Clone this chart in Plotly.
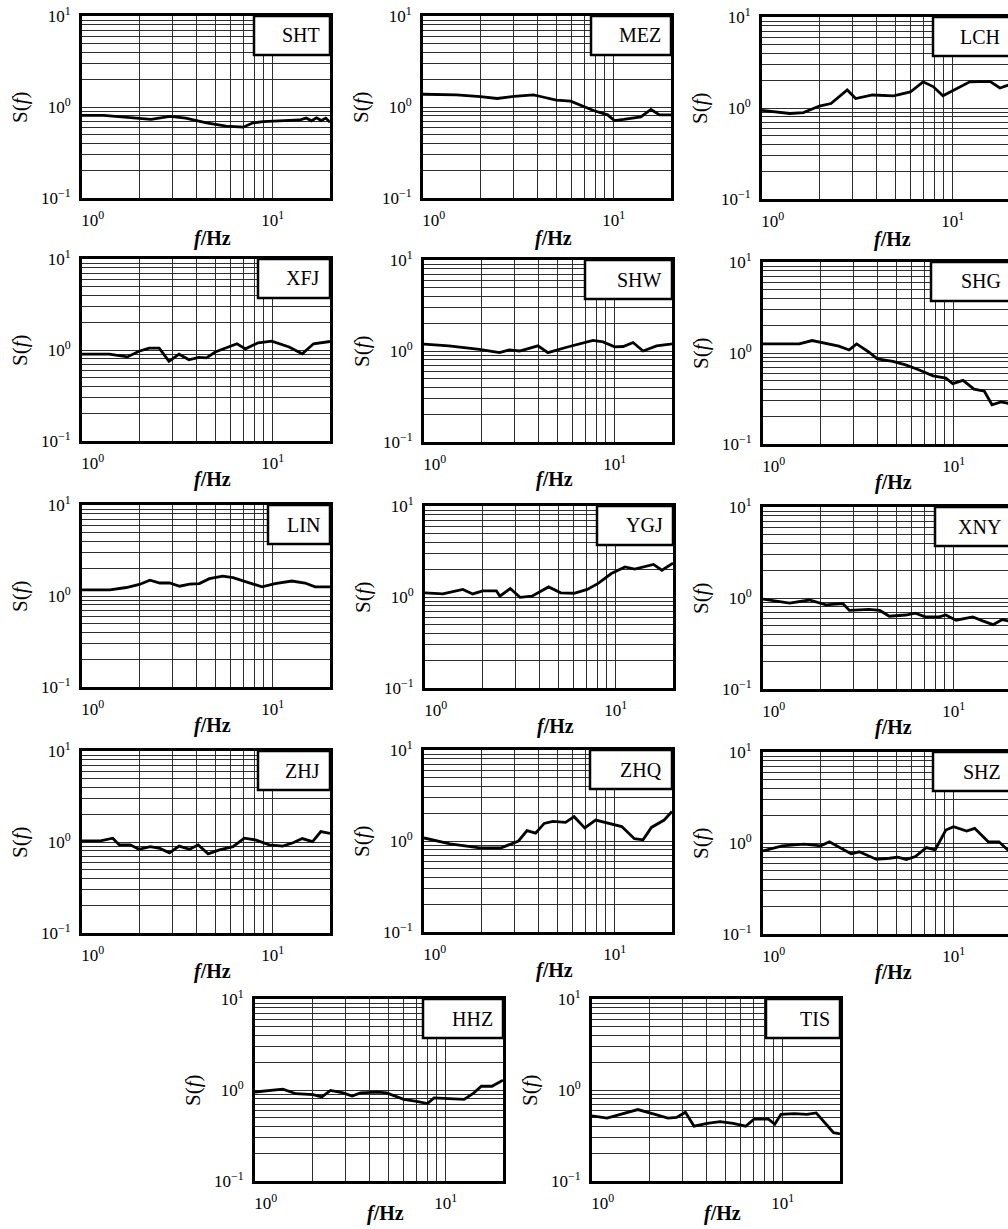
import math
import plotly.graph_objects as go

# ---------------- data ----------------
stations = ["SHT", "MEZ", "LCH", "XFJ", "SHW", "SHG", "LIN",
            "YGJ", "XNY", "ZHJ", "ZHQ", "SHZ", "HHZ", "TIS"]

f_SHT = [1.0, 1.3, 1.5, 2.0, 2.3, 2.9, 3.5, 4.5, 5.7, 7.0, 7.9, 8.9, 11.4, 13.9, 15, 16, 17, 18, 19, 20]
s_SHT = [0.81, 0.81, 0.79, 0.755, 0.73, 0.79, 0.755, 0.67, 0.615, 0.60, 0.67, 0.69, 0.71, 0.72, 0.755, 0.705, 0.76, 0.71, 0.755, 0.68]

f_MEZ = [1.0, 1.29, 1.5, 2.0, 2.45, 3.0, 3.8, 4.3, 5.0, 5.95, 6.7, 7.9, 9.3, 10.1, 11.3, 13.9, 15.7, 17.4, 20]
s_MEZ = [1.38, 1.38, 1.36, 1.30, 1.24, 1.31, 1.36, 1.28, 1.19, 1.16, 1.04, 0.91, 0.82, 0.71, 0.73, 0.78, 0.94, 0.82, 0.82]

f_LCH = [1.0, 1.4, 1.65, 2.0, 2.3, 2.8, 3.1, 3.8, 4.9, 6.0, 7.0, 7.9, 8.9, 10.5, 12.3, 15.7, 17.7, 19.6, 20]
s_LCH = [0.94, 0.87, 0.89, 1.05, 1.12, 1.58, 1.27, 1.39, 1.36, 1.50, 1.94, 1.72, 1.36, 1.64, 1.94, 1.96, 1.66, 1.78, 1.80]

f_XFJ = [1.0, 1.39, 1.73, 1.99, 2.25, 2.54, 2.86, 3.23, 3.64, 4.1, 4.5, 5.0, 6.5, 7.2, 8.4, 9.9, 12.2, 14.3, 16.4, 19.6, 20]
s_XFJ = [0.90, 0.90, 0.84, 0.97, 1.05, 1.05, 0.75, 0.90, 0.78, 0.83, 0.82, 0.95, 1.17, 1.03, 1.20, 1.25, 1.08, 0.91, 1.17, 1.23, 1.24]

f_SHW = [1.0, 1.35, 1.95, 2.49, 2.8, 3.17, 3.96, 4.47, 5.6, 6.55, 7.7, 8.7, 10.0, 11.1, 12.5, 14.1, 16.6, 19.6, 20]
s_SHW = [1.19, 1.14, 1.04, 0.96, 1.03, 1.00, 1.14, 0.96, 1.10, 1.19, 1.31, 1.26, 1.11, 1.12, 1.24, 1.00, 1.14, 1.19, 1.20]

f_SHG = [1.0, 1.37, 1.55, 1.81, 2.14, 2.5, 2.83, 3.1, 3.6, 3.98, 4.8, 5.6, 6.6, 7.8, 9.1, 9.9, 11.2, 12.8, 14.5, 15.9, 17.7, 19.4, 20]
s_SHG = [1.26, 1.25, 1.26, 1.37, 1.28, 1.19, 1.08, 1.26, 1.02, 0.86, 0.81, 0.74, 0.65, 0.56, 0.53, 0.46, 0.50, 0.40, 0.38, 0.27, 0.29, 0.28, 0.27]

f_LIN = [1.0, 1.4, 1.71, 2.0, 2.27, 2.56, 2.88, 3.25, 3.67, 4.13, 4.66, 5.47, 6.2, 7.2, 8.8, 10.3, 12.6, 14.8, 16.7, 20]
s_LIN = [1.17, 1.17, 1.24, 1.34, 1.49, 1.39, 1.39, 1.28, 1.35, 1.37, 1.55, 1.65, 1.59, 1.43, 1.26, 1.37, 1.46, 1.39, 1.26, 1.26]

f_YGJ = [1.0, 1.24, 1.58, 1.78, 2.01, 2.37, 2.47, 2.8, 3.15, 3.64, 4.45, 5.15, 6.05, 7.1, 8.1, 9.5, 11.2, 12.6, 15.8, 17.5, 20]
s_YGJ = [1.11, 1.08, 1.21, 1.08, 1.17, 1.17, 1.02, 1.24, 0.99, 1.02, 1.29, 1.11, 1.10, 1.21, 1.41, 1.81, 2.14, 2.03, 2.28, 1.97, 2.36]

f_XNY = [1.0, 1.38, 1.75, 2.14, 2.62, 2.84, 3.6, 4.1, 4.6, 5.6, 6.3, 7.1, 8.4, 9.1, 10.3, 12.6, 14.2, 16.1, 18.0, 19.5, 20]
s_XNY = [0.97, 0.88, 0.95, 0.84, 0.87, 0.73, 0.75, 0.73, 0.63, 0.65, 0.68, 0.62, 0.62, 0.65, 0.57, 0.62, 0.56, 0.51, 0.58, 0.55, 0.55]

f_ZHJ = [1.0, 1.25, 1.45, 1.57, 1.79, 1.99, 2.28, 2.56, 2.88, 3.23, 3.67, 4.07, 4.59, 5.26, 6.2, 7.1, 8.2, 9.6, 11.3, 12.8, 14.3, 16.2, 17.9, 19.6, 20]
s_ZHJ = [1.03, 1.03, 1.10, 0.93, 0.93, 0.83, 0.89, 0.85, 0.76, 0.90, 0.83, 0.93, 0.74, 0.82, 0.89, 1.10, 1.05, 0.93, 0.90, 0.98, 1.09, 1.01, 1.30, 1.24, 1.24]

f_ZHQ = [1.0, 1.37, 1.96, 2.54, 3.13, 3.47, 3.85, 4.27, 4.74, 5.53, 6.13, 6.97, 7.95, 9.8, 10.9, 12.7, 14.1, 15.6, 18.2, 20]
s_ZHQ = [1.08, 0.93, 0.84, 0.84, 1.00, 1.30, 1.22, 1.56, 1.64, 1.60, 1.85, 1.39, 1.70, 1.54, 1.44, 1.06, 1.03, 1.41, 1.70, 2.11]

f_SHZ = [1.0, 1.26, 1.64, 2.01, 2.23, 2.6, 2.9, 3.2, 3.94, 4.6, 5.1, 5.65, 6.3, 7.2, 8.0, 9.1, 10.0, 11.7, 12.9, 15.2, 17.3, 19.5, 20]
s_SHZ = [0.82, 0.93, 0.97, 0.93, 1.03, 0.87, 0.76, 0.80, 0.66, 0.68, 0.70, 0.66, 0.71, 0.89, 0.84, 1.39, 1.51, 1.35, 1.45, 1.03, 1.03, 0.82, 0.80]

f_HHZ = [1.0, 1.40, 1.64, 2.02, 2.24, 2.49, 2.9, 3.23, 3.58, 4.4, 4.9, 6.03, 7.05, 8.03, 8.7, 10.7, 12.5, 13.9, 15.4, 17.5, 20]
s_HHZ = [0.95, 1.02, 0.91, 0.89, 0.84, 0.99, 0.93, 0.86, 0.93, 0.95, 0.93, 0.79, 0.75, 0.71, 0.82, 0.80, 0.79, 0.91, 1.10, 1.10, 1.28]

f_TIS = [1.0, 1.2, 1.41, 1.74, 2.14, 2.5, 2.78, 3.09, 3.43, 4.02, 4.7, 5.5, 6.4, 7.1, 8.4, 9.1, 9.8, 11.5, 13.4, 15, 17.1, 18.5, 20]
s_TIS = [0.52, 0.49, 0.54, 0.61, 0.54, 0.49, 0.50, 0.57, 0.40, 0.43, 0.45, 0.43, 0.40, 0.48, 0.48, 0.42, 0.54, 0.55, 0.54, 0.56, 0.41, 0.34, 0.33]

x_tick_vals = [1, 10]
x_tick_text = ["&nbsp;&nbsp;&nbsp;&nbsp;&nbsp;10<sup>0</sup>", "10<sup>1</sup>"]
x_minor_vals = [2, 3, 4, 5, 6, 7, 8, 9, 20]
y_tick_vals = [0.1, 1, 10]
y_tick_text = ["10<sup>\u22121</sup>", "10<sup>0</sup>", "10<sup>1</sup>"]
y_minor_vals = [0.2, 0.3, 0.4, 0.5, 0.6, 0.7, 0.8, 0.9, 2, 3, 4, 5, 6, 7, 8, 9]

F = {"SHT": f_SHT, "MEZ": f_MEZ, "LCH": f_LCH, "XFJ": f_XFJ, "SHW": f_SHW, "SHG": f_SHG, "LIN": f_LIN,
     "YGJ": f_YGJ, "XNY": f_XNY, "ZHJ": f_ZHJ, "ZHQ": f_ZHQ, "SHZ": f_SHZ, "HHZ": f_HHZ, "TIS": f_TIS}
S = {"SHT": s_SHT, "MEZ": s_MEZ, "LCH": s_LCH, "XFJ": s_XFJ, "SHW": s_SHW, "SHG": s_SHG, "LIN": s_LIN,
     "YGJ": s_YGJ, "XNY": s_XNY, "ZHJ": s_ZHJ, "ZHQ": s_ZHQ, "SHZ": s_SHZ, "HHZ": s_HHZ, "TIS": s_TIS}

# ---------------- layout geometry ----------------
W, H = 1008, 1229
PW, PH = 248, 182
pos = {
    "SHT": (82, 16), "MEZ": (423, 16), "LCH": (762, 17),
    "XFJ": (82, 259), "SHW": (424, 260), "SHG": (763, 262),
    "LIN": (82, 505), "YGJ": (425, 506), "XNY": (763, 507),
    "ZHJ": (82, 751), "ZHQ": (424, 750), "SHZ": (763, 752),
    "HHZ": (255, 999), "TIS": (592, 999),
}
row_of = {"SHT": 0, "MEZ": 0, "LCH": 0, "XFJ": 1, "SHW": 1, "SHG": 1, "LIN": 2, "YGJ": 2, "XNY": 2,
          "ZHJ": 3, "ZHQ": 3, "SHZ": 3, "HHZ": 4, "TIS": 4}
xtitle_gap = [41, 38, 38, 38, 32]
box_w = {"SHT": 76, "MEZ": 80, "LCH": 77, "XFJ": 72, "SHW": 87, "SHG": 80, "LIN": 62,
         "YGJ": 76, "XNY": 76, "ZHJ": 72, "ZHQ": 82, "SHZ": 78, "HHZ": 80, "TIS": 74}
BOX_H = 39

SERIF = "Liberation Serif, Times New Roman, serif"
GRID = "#2e2e2e"
fig = go.Figure()
layout = dict(width=W, height=H, autosize=False,
              margin=dict(l=0, r=0, t=0, b=0, pad=0, autoexpand=False),
              paper_bgcolor="white", plot_bgcolor="white", showlegend=False,
              font=dict(family=SERIF, color="black"))
shapes, annotations = [], []

for i, name in enumerate(stations):
    k = i + 1
    xa = "x" if k == 1 else f"x{k}"
    ya = "y" if k == 1 else f"y{k}"
    left, top = pos[name]
    right = min(left + PW, W)
    vis_w = right - left
    xmax = math.log10(20) * vis_w / PW

    fig.add_trace(go.Scatter(x=F[name], y=S[name], mode="lines",
                             line=dict(color="black", width=2.8),
                             xaxis=xa, yaxis=ya, hoverinfo="skip"))

    common = dict(showgrid=True, gridcolor=GRID, gridwidth=1,
                  showline=True, linecolor="black", linewidth=3, mirror=True,
                  ticks="", zeroline=False, type="log", tickmode="array",
                  automargin=False,
                  tickfont=dict(family=SERIF, size=17, color="black"))
    layout["xaxis" if k == 1 else f"xaxis{k}"] = dict(
        common, domain=[left / W, right / W], range=[0, xmax], anchor=ya,
        tickvals=x_tick_vals, ticktext=x_tick_text, ticklabelstandoff=5,
        minor=dict(tickmode="array", tickvals=x_minor_vals, showgrid=True,
                   gridcolor=GRID, gridwidth=1, ticks=""))
    layout["yaxis" if k == 1 else f"yaxis{k}"] = dict(
        common, domain=[1 - (top + PH) / H, 1 - top / H], range=[-1, 1], anchor=xa,
        tickvals=y_tick_vals, ticktext=y_tick_text, ticklabelstandoff=5,
        minor=dict(tickmode="array", tickvals=y_minor_vals, showgrid=True,
                   gridcolor=GRID, gridwidth=1, ticks=""))

    # station label box
    bw = box_w[name]
    shapes.append(dict(type="rect", xref=f"{xa} domain", yref=f"{ya} domain",
                       x0=(PW - bw) / vis_w, x1=PW / vis_w,
                       y0=1 - BOX_H / PH, y1=1,
                       line=dict(color="black", width=2.5), fillcolor="white", layer="above"))
    annotations.append(dict(xref=f"{xa} domain", yref=f"{ya} domain",
                            x=(PW - 8) / vis_w, y=1 - (BOX_H / 2) / PH,
                            xanchor="right", yanchor="middle", showarrow=False,
                            text=name, font=dict(family=SERIF, size=20, color="black")))
    # axis titles
    annotations.append(dict(xref="paper", yref="paper",
                            x=(left - 62) / W, y=1 - (top + PH / 2) / H,
                            xanchor="center", yanchor="middle", textangle=-90, showarrow=False,
                            text="S(<i>f</i>)", font=dict(family=SERIF, size=21, color="black")))
    annotations.append(dict(xref="paper", yref="paper",
                            x=(left + PW / 2 + 6) / W,
                            y=1 - (top + PH + xtitle_gap[row_of[name]]) / H,
                            xanchor="center", yanchor="middle", showarrow=False,
                            text="<b><i>f</i>/Hz</b>", font=dict(family=SERIF, size=20, color="black")))

layout["shapes"] = shapes
layout["annotations"] = annotations
fig.update_layout(**layout)
fig.write_html("out.html",
               config={"displayModeBar": False, "staticPlot": True},
               post_script="document.body.style.margin='0';document.body.style.padding='0';"
                           "document.documentElement.style.overflow='hidden';")
